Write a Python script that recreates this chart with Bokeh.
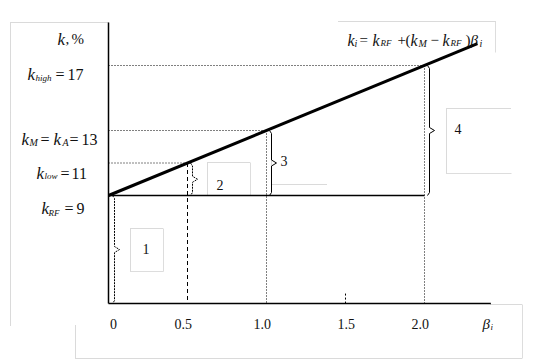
from bokeh.plotting import figure
from bokeh.models import ColumnDataSource
from bokeh.core.properties import value
from bokeh.embed import file_html
from bokeh.resources import INLINE

# ---------------- data ----------------
k_rf = 9          # risk-free rate, %
k_m = 13          # market return, %
k_low = 11
k_high = 17
beta_low = 0.5
beta_m = 1.0
beta_high = 2.0
beta_line = [0.0, 2.335]            # extent of the SML line
x_ticks = [0.0, 0.5, 1.0, 1.5, 2.0]
x_tick_labels = ["0", "0.5", "1.0", "1.5", "2.0"]
segment_labels = ["1", "2", "3", "4"]
k_axis = 2.35      # level of the horizontal axis
k_top = 19.65      # top of the vertical axis
beta_axis_end = 2.42

# ---------------- geometry ----------------
W, H = 556, 360
PX_X = 158.0       # pixels per beta unit
PX_Y = 16.25       # pixels per percent
X0, Y0 = 108, 195  # page position of (0, k_rf)
x_start = (0 - X0) / PX_X
y_top = k_rf + (Y0 - 0) / PX_Y


def bx(px):
    return (px - X0) / PX_X


def ky(py):
    return k_rf - (py - Y0) / PX_Y


p = figure(width=W, height=H,
           x_range=(x_start, x_start + W / PX_X),
           y_range=(y_top - H / PX_Y, y_top),
           output_backend="svg", toolbar_location=None,
           x_axis_location=None, y_axis_location=None, min_border=0)
p.grid.visible = False
p.outline_line_color = None
p.background_fill_color = "white"
p.border_fill_color = "white"

# ---------------- decorative text-frame remnants ----------------
GREY = "#b4b4b4"
LIGHT = "#dddddd"
dotted_boxes = [
    [(10, 325), (10, 22), (108, 22)],
    [(338, 21), (495, 21)],
    [(130, 271), (130, 228), (163, 228)],
    [(207, 195), (207, 162), (250, 162)],
    [(271, 142), (271, 184), (326, 184)],
    [(446, 173), (446, 108), (511, 108)],
    [(75, 325), (75, 358), (522, 358)],
    [(490, 304), (522, 304)],
]
solid_boxes = [
    [(495, 21), (495, 52)],
    [(163, 228), (163, 271), (130, 271)],
    [(250, 162), (250, 195)],
    [(446, 173), (511, 173)],
    [(522, 304), (522, 358)],
]
p.multi_line([[bx(a) for a, b in pl] for pl in dotted_boxes],
             [[ky(b) for a, b in pl] for pl in dotted_boxes],
             line_color=GREY, line_width=1, line_dash="1 1")
p.multi_line([[bx(a) for a, b in pl] for pl in solid_boxes],
             [[ky(b) for a, b in pl] for pl in solid_boxes],
             line_color=LIGHT, line_width=1)

# ---------------- axes ----------------
p.line([0, 0], [k_axis, k_top], line_color="black", line_width=1.5)
p.line([0, beta_axis_end], [k_axis, k_axis], line_color="black", line_width=1.5)

# ---------------- guide lines ----------------
p.segment(x0=[0, 0, 0], y0=[k_high, k_m, k_low],
          x1=[beta_high, beta_m, beta_low], y1=[k_high, k_m, k_low],
          line_color="black", line_width=1, line_dash="1 2")
p.segment(x0=[beta_m, beta_high], y0=[k_m, k_high],
          x1=[beta_m, beta_high], y1=[k_axis, k_axis],
          line_color="black", line_width=1, line_dash="1 2")
p.segment(x0=[beta_low], y0=[k_low], x1=[beta_low], y1=[k_axis],
          line_color="black", line_width=1, line_dash="4 3")
p.segment(x0=[1.5], y0=[k_axis + 10 / PX_Y], x1=[1.5], y1=[k_axis],
          line_color="black", line_width=1, line_dash="2 2")
p.line([0, beta_high], [k_rf, k_rf], line_color="black", line_width=1.5)

# ---------------- SML line ----------------
p.line(beta_line, [k_rf + (k_m - k_rf) * b for b in beta_line],
       line_color="black", line_width=3)


# ---------------- braces ----------------
def brace(beta, k_lo, k_hi, off=5, tip=5):
    x = beta + off / PX_X
    xl = beta + (off - 2) / PX_X
    xt = x + tip / PX_X
    mid = (k_lo + k_hi) / 2
    e = 3 / PX_Y
    xs = [xl, x, x, xt, x, x, xl]
    ys = [k_hi, k_hi - e, mid + e, mid, mid - e, k_lo + e, k_lo]
    return xs, ys


b1 = brace(0, k_axis, k_rf, off=6)
b2 = brace(beta_low, k_rf, k_low)
b3 = brace(beta_m, k_rf, k_m)
b4 = brace(beta_high, k_rf, k_high)
p.multi_line([b1[0], b2[0]], [b1[1], b2[1]], line_color="black",
             line_width=1, line_dash="2 1")
p.multi_line([b3[0], b4[0]], [b3[1], b4[1]], line_color="black",
             line_width=1)

# ---------------- texts ----------------
FONT = value("Liberation Serif")
TXT = "#111111"

rows = dict(x=[], y=[], text=[], dx=[], dy=[], size=[], style=[])


def piece(x, y, t, dxp, dyp, size, style):
    rows["x"].append(x)
    rows["y"].append(y)
    rows["text"].append(t)
    rows["dx"].append(dxp)
    rows["dy"].append(dyp)
    rows["size"].append(f"{size}px")
    rows["style"].append(style)


def label(k, base_dy, parts):
    # parts: (text, page_x, extra_dy, size, style)
    for t, px, edy, size, style in parts:
        piece(bx(px), k, t, 0, base_dy + edy, size, style)


# left axis labels
label(k_high, 9, [("k", 27, 0, 17, "italic"), ("high", 35, 3, 9, "italic"),
                  ("=", 55, 0, 16, "normal"), ("17", 67, 0, 16, "normal")])
label(k_m, 9, [("k", 21, 0, 17, "italic"), ("M", 29, 3, 10, "italic"),
               ("=", 40, 0, 16, "normal"), ("k", 53, 0, 17, "italic"),
               ("A", 62, 3, 10, "italic"), ("=", 69, 0, 16, "normal"),
               ("13", 81, 0, 16, "normal")])
label(k_low, 10, [("k", 36, 0, 17, "italic"), ("low", 44, 3, 9, "italic"),
                  ("=", 60, 0, 16, "normal"), ("11", 71, 0, 16, "normal")])
label(k_rf, 13, [("k", 41, 0, 17, "italic"), ("RF", 48, 4, 9, "italic"),
                 ("=", 64, 0, 16, "normal"), ("9", 76, 0, 16, "normal")])
label(k_top, 17, [("k", 57, 0, 17, "italic"), (",", 65, 0, 15, "normal"),
                  ("%", 71, 0, 15, "normal")])

# formula
label(k_top, 18, [("k", 347, 0, 16, "italic"), ("i", 354, 3, 10, "italic"),
                  ("=", 359, 0, 15, "normal"), ("k", 372, 0, 16, "italic"),
                  ("RF", 380, 3, 9, "italic"), ("+", 397, 0, 15, "normal"),
                  ("(", 405, 0, 15, "normal"), ("k", 410, 0, 16, "italic"),
                  ("M", 418, 3, 10, "italic"), ("\u2212", 430, 0, 15, "normal"),
                  ("k", 442, 0, 16, "italic"), ("RF", 450, 3, 9, "italic"),
                  (")", 465, 0, 15, "normal"), ("\u03b2", 470, 0, 15, "italic"),
                  ("i", 479, 3, 10, "italic")])

# x tick labels
tick_dx = [5, -4, -4, 1, -4]
for t, lab, d in zip(x_ticks, x_tick_labels, tick_dx):
    w = 7 * len(lab) - (3 if "." in lab else 0)
    piece(t, k_axis, lab, d - w / 2, 20, 14, "normal")
label(k_axis, 20, [("\u03b2", 482, 0, 15, "italic"), ("i", 490, 3, 9, "italic")])

# segment numbers
num_pos = [(142, 248), (216, 184), (280, 160), (454, 128)]
for s, (px, py) in zip(segment_labels, num_pos):
    piece(bx(px), ky(py), s, 0, 0, 14, "normal")

src = ColumnDataSource(rows)
p.text(x="x", y="y", text="text", x_offset="dx", y_offset="dy",
       text_font_size="size", text_font_style="style", text_font=FONT,
       text_color=TXT, text_align="left", text_baseline="alphabetic",
       source=src)

open("out.html", "w").write(file_html(p, INLINE))
